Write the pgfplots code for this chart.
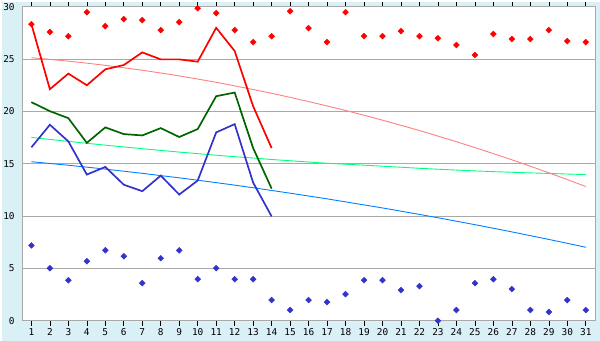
\documentclass[border=0pt]{standalone}
\usepackage{fontspec}
\usepackage{pgfplots}
\pgfplotsset{compat=1.18}
\newfontfamily\tickfont{DejaVu Sans Mono}
\definecolor{bgblue}{HTML}{DAF0F7}
\definecolor{gridgray}{HTML}{A9A9A9}
\definecolor{cred}{HTML}{FF0000}
\definecolor{cgreen}{HTML}{006400}
\definecolor{cblue}{HTML}{3333CC}
\definecolor{tpink}{HTML}{FF8080}
\definecolor{tgreen}{HTML}{00FF7F}
\definecolor{tblue}{HTML}{0080FF}
\begin{document}
\begin{tikzpicture}
\fill[bgblue] (-20bp,-20bp) rectangle (580bp,320bp);
\begin{axis}[
  at={(0,0)}, anchor=south west,
  scale only axis, width=575bp, height=315bp,
  xmin=0.5, xmax=31.5, ymin=0, ymax=30,
  xtick={1,...,31}, ytick={0,5,...,30},
  axis background/.style={fill=white},
  axis line style={draw=gridgray, line width=0.8bp},
  ymajorgrids, grid style={draw=gridgray, line width=0.8bp},
  tick align=outside, major tick length=5bp,
  xtick style={draw=black, line width=0.6bp},
  ytick style={draw=none},
  x tick label style={yshift=1bp},
  y tick label style={xshift=1bp},
  ticklabel style={font=\tickfont\fontsize{9.5}{11}\selectfont},
  /pgf/number format/assume math mode=true,
  clip=false,
]
% trend lines
\addplot[tpink, line width=0.9bp] coordinates {
(1,25.14)(2,24.98)(3,24.81)(4,24.62)(5,24.41)(6,24.18)(7,23.94)(8,23.68)(9,23.40)(10,23.10)
(11,22.79)(12,22.45)(13,22.10)(14,21.74)(15,21.35)(16,20.95)(17,20.53)(18,20.10)(19,19.64)(20,19.17)
(21,18.68)(22,18.18)(23,17.65)(24,17.11)(25,16.55)(26,15.97)(27,15.38)(28,14.77)(29,14.14)(30,13.49)(31,12.83)};
\addplot[tgreen, line width=0.9bp] coordinates {
(1,17.52)(2,17.33)(3,17.14)(4,16.96)(5,16.78)(6,16.61)(7,16.44)(8,16.28)(9,16.12)(10,15.97)
(11,15.82)(12,15.68)(13,15.55)(14,15.41)(15,15.29)(16,15.17)(17,15.05)(18,14.96)(19,14.87)(20,14.77)
(21,14.67)(22,14.57)(23,14.48)(24,14.40)(25,14.32)(26,14.25)(27,14.19)(28,14.13)(29,14.08)(30,14.02)(31,13.97)};
\addplot[tblue, line width=0.9bp] coordinates {
(1,15.20)(2,15.03)(3,14.86)(4,14.68)(5,14.49)(6,14.29)(7,14.09)(8,13.87)(9,13.66)(10,13.43)
(11,13.20)(12,12.96)(13,12.71)(14,12.45)(15,12.19)(16,11.92)(17,11.65)(18,11.36)(19,11.07)(20,10.78)
(21,10.47)(22,10.16)(23,9.84)(24,9.51)(25,9.18)(26,8.84)(27,8.49)(28,8.13)(29,7.77)(30,7.40)(31,7.02)};
% data lines
\addplot[cred, line width=1.7bp] coordinates {
(1,28.35)(2,22.13)(3,23.62)(4,22.51)(5,24.03)(6,24.44)(7,25.65)(8,24.98)(9,24.98)(10,24.76)
(11,28.0)(12,25.78)(13,20.5)(14,16.5)};
\addplot[cgreen, line width=1.7bp] coordinates {
(1,20.89)(2,20.03)(3,19.36)(4,17.0)(5,18.48)(6,17.84)(7,17.71)(8,18.41)(9,17.56)(10,18.32)
(11,21.46)(12,21.81)(13,16.5)(14,12.63)};
\addplot[cblue, line width=1.7bp] coordinates {
(1,16.57)(2,18.73)(3,17.14)(4,13.97)(5,14.7)(6,13.0)(7,12.38)(8,13.87)(9,12.06)(10,13.4)
(11,18.0)(12,18.79)(13,13.2)(14,9.97)};
% markers
\addplot[only marks, mark=square*, mark size=2.1bp, cred, mark options={fill=cred, draw=cred, rotate=45}] coordinates {
(1,28.35)(2,27.59)(3,27.2)(4,29.49)(5,28.16)(6,28.83)(7,28.73)(8,27.78)(9,28.54)(10,29.87)
(11,29.4)(12,27.78)(13,26.63)(14,27.2)(15,29.59)(16,27.97)(17,26.63)(18,29.49)(19,27.2)(20,27.2)
(21,27.68)(22,27.2)(23,27.0)(24,26.35)(25,25.4)(26,27.4)(27,26.92)(28,26.92)(29,27.78)(30,26.73)(31,26.63)};
\addplot[only marks, mark=square*, mark size=2.1bp, cblue, mark options={fill=cblue, draw=cblue, rotate=45}] coordinates {
(1,7.2)(2,5.02)(3,3.87)(4,5.68)(5,6.73)(6,6.16)(7,3.59)(8,5.97)(9,6.73)(10,3.97)
(11,5.02)(12,3.97)(13,3.97)(14,1.97)(15,1.02)(16,1.97)(17,1.78)(18,2.54)(19,3.87)(20,3.87)
(21,2.92)(22,3.3)(23,0)(24,1.02)(25,3.59)(26,3.97)(27,3.02)(28,1.02)(29,0.83)(30,1.97)(31,1.02)};
\end{axis}
\end{tikzpicture}
\end{document}
